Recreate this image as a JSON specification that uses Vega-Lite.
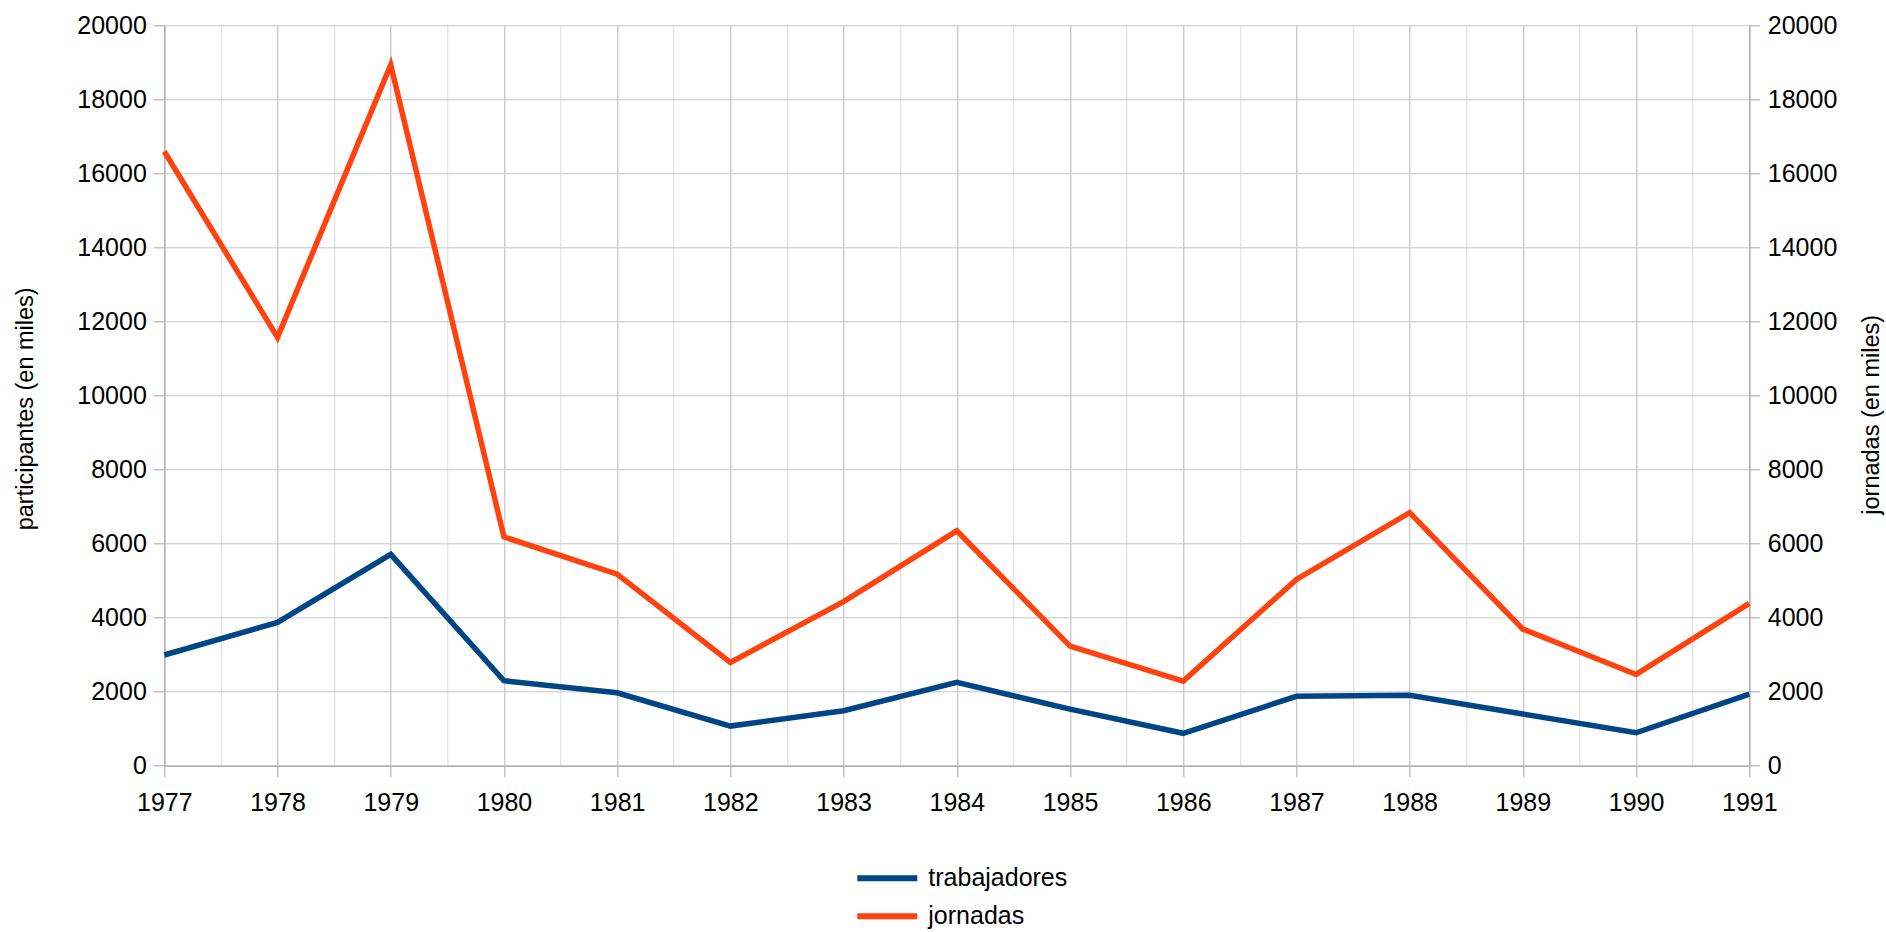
{
  "$schema": "https://vega.github.io/schema/vega-lite/v6.json",
  "width": 1585,
  "height": 740.4,
  "autosize": {"type": "none"},
  "padding": {"left": 164.3, "top": 25.3, "right": 136.7, "bottom": 166.3},
  "background": "white",
  "config": {
    "view": {"stroke": null},
    "font": "Liberation Sans",
    "axis": {
      "labelFont": "Liberation Sans",
      "titleFont": "Liberation Sans",
      "labelColor": "#000000",
      "titleColor": "#000000",
      "labelFontSize": 25,
      "titleFontSize": 23.5,
      "titleFontWeight": "normal",
      "labelFlush": false,
      "labelOverlap": false,
      "domainColor": "#b3b3b3",
      "tickColor": "#b3b3b3",
      "gridColor": "#c6c6c6",
      "domainWidth": 1.5,
      "tickWidth": 1.2
    },
    "legend": {"labelFont": "Liberation Sans"}
  },
  "data": {
    "values": [
      {"anio": 1977, "serie": "trabajadores", "valor": 2990},
      {"anio": 1978, "serie": "trabajadores", "valor": 3870},
      {"anio": 1979, "serie": "trabajadores", "valor": 5710},
      {"anio": 1980, "serie": "trabajadores", "valor": 2295},
      {"anio": 1981, "serie": "trabajadores", "valor": 1970},
      {"anio": 1982, "serie": "trabajadores", "valor": 1070},
      {"anio": 1983, "serie": "trabajadores", "valor": 1485},
      {"anio": 1984, "serie": "trabajadores", "valor": 2250},
      {"anio": 1985, "serie": "trabajadores", "valor": 1530},
      {"anio": 1986, "serie": "trabajadores", "valor": 875},
      {"anio": 1987, "serie": "trabajadores", "valor": 1875},
      {"anio": 1988, "serie": "trabajadores", "valor": 1900},
      {"anio": 1989, "serie": "trabajadores", "valor": 1395},
      {"anio": 1990, "serie": "trabajadores", "valor": 890},
      {"anio": 1991, "serie": "trabajadores", "valor": 1935},
      {"anio": 1977, "serie": "jornadas", "valor": 16590},
      {"anio": 1978, "serie": "jornadas", "valor": 11570},
      {"anio": 1979, "serie": "jornadas", "valor": 18930},
      {"anio": 1980, "serie": "jornadas", "valor": 6180},
      {"anio": 1981, "serie": "jornadas", "valor": 5175},
      {"anio": 1982, "serie": "jornadas", "valor": 2790},
      {"anio": 1983, "serie": "jornadas", "valor": 4430},
      {"anio": 1984, "serie": "jornadas", "valor": 6345},
      {"anio": 1985, "serie": "jornadas", "valor": 3230},
      {"anio": 1986, "serie": "jornadas", "valor": 2285},
      {"anio": 1987, "serie": "jornadas", "valor": 5030},
      {"anio": 1988, "serie": "jornadas", "valor": 6835},
      {"anio": 1989, "serie": "jornadas", "valor": 3690},
      {"anio": 1990, "serie": "jornadas", "valor": 2465},
      {"anio": 1991, "serie": "jornadas", "valor": 4385}
    ]
  },
  "encoding": {
    "color": {
      "field": "serie",
      "type": "nominal",
      "scale": {"domain": ["trabajadores", "jornadas"], "range": ["#004586", "#ff420e"]},
      "legend": {
        "title": null,
        "orient": "none",
        "legendX": 710,
        "legendY": 840,
        "direction": "vertical",
        "padding": 0,
        "symbolType": "M-3,0H3",
        "symbolSize": 400,
        "symbolStrokeWidth": 6,
        "symbolOffset": 0,
        "labelOffset": 28,
        "labelFontSize": 25,
        "labelColor": "#000000",
        "rowPadding": 12
      }
    }
  },
  "layer": [
    {
      "transform": [{"filter": "datum.serie === 'trabajadores'"}],
      "mark": {"type": "line", "strokeWidth": 5.5, "strokeJoin": "miter"},
      "encoding": {
        "x": {
          "field": "anio",
          "type": "quantitative",
          "scale": {"domain": [1977, 1991], "nice": false, "zero": false},
          "axis": {
            "orient": "bottom",
            "title": null,
            "values": [1977.5, 1978.5, 1979.5, 1980.5, 1981.5, 1982.5, 1983.5, 1984.5, 1985.5, 1986.5, 1987.5, 1988.5, 1989.5, 1990.5],
            "tickCount": 100,
            "grid": true,
            "gridColor": "#dcdcdc",
            "labels": false,
            "ticks": false,
            "domain": false
          }
        },
        "y": {
          "field": "valor",
          "type": "quantitative",
          "scale": {"domain": [0, 20000], "nice": false},
          "axis": {
            "orient": "left",
            "values": [0, 2000, 4000, 6000, 8000, 10000, 12000, 14000, 16000, 18000, 20000],
            "format": "d",
            "title": "participantes (en miles)",
            "titleAngle": 270,
            "titleX": -139,
            "titleY": 383,
            "titleAlign": "center",
            "titleBaseline": "middle",
            "grid": true,
            "tickSize": 11,
            "labelPadding": 7
          }
        }
      }
    },
    {
      "transform": [{"filter": "datum.serie === 'jornadas'"}],
      "mark": {"type": "line", "strokeWidth": 5.5, "strokeJoin": "miter"},
      "encoding": {
        "x": {
          "field": "anio",
          "type": "quantitative",
          "scale": {"domain": [1977, 1991], "nice": false, "zero": false},
          "axis": {
            "orient": "bottom",
            "title": null,
            "values": [1977, 1978, 1979, 1980, 1981, 1982, 1983, 1984, 1985, 1986, 1987, 1988, 1989, 1990, 1991],
            "tickCount": 100,
            "format": "d",
            "grid": true,
            "gridColor": "#b8b8b8",
            "tickSize": 11,
            "labelPadding": 14
          }
        },
        "y": {
          "field": "valor",
          "type": "quantitative",
          "scale": {"domain": [0, 20000], "nice": false},
          "axis": {
            "orient": "right",
            "values": [0, 2000, 4000, 6000, 8000, 10000, 12000, 14000, 16000, 18000, 20000],
            "format": "d",
            "title": "jornadas (en miles)",
            "titleAngle": 270,
            "titleX": 122,
            "titleY": 389,
            "titleAlign": "center",
            "titleBaseline": "middle",
            "grid": false,
            "tickSize": 10,
            "labelPadding": 8
          }
        }
      }
    }
  ],
  "resolve": {"scale": {"y": "independent"}, "axis": {"x": "independent"}}
}
